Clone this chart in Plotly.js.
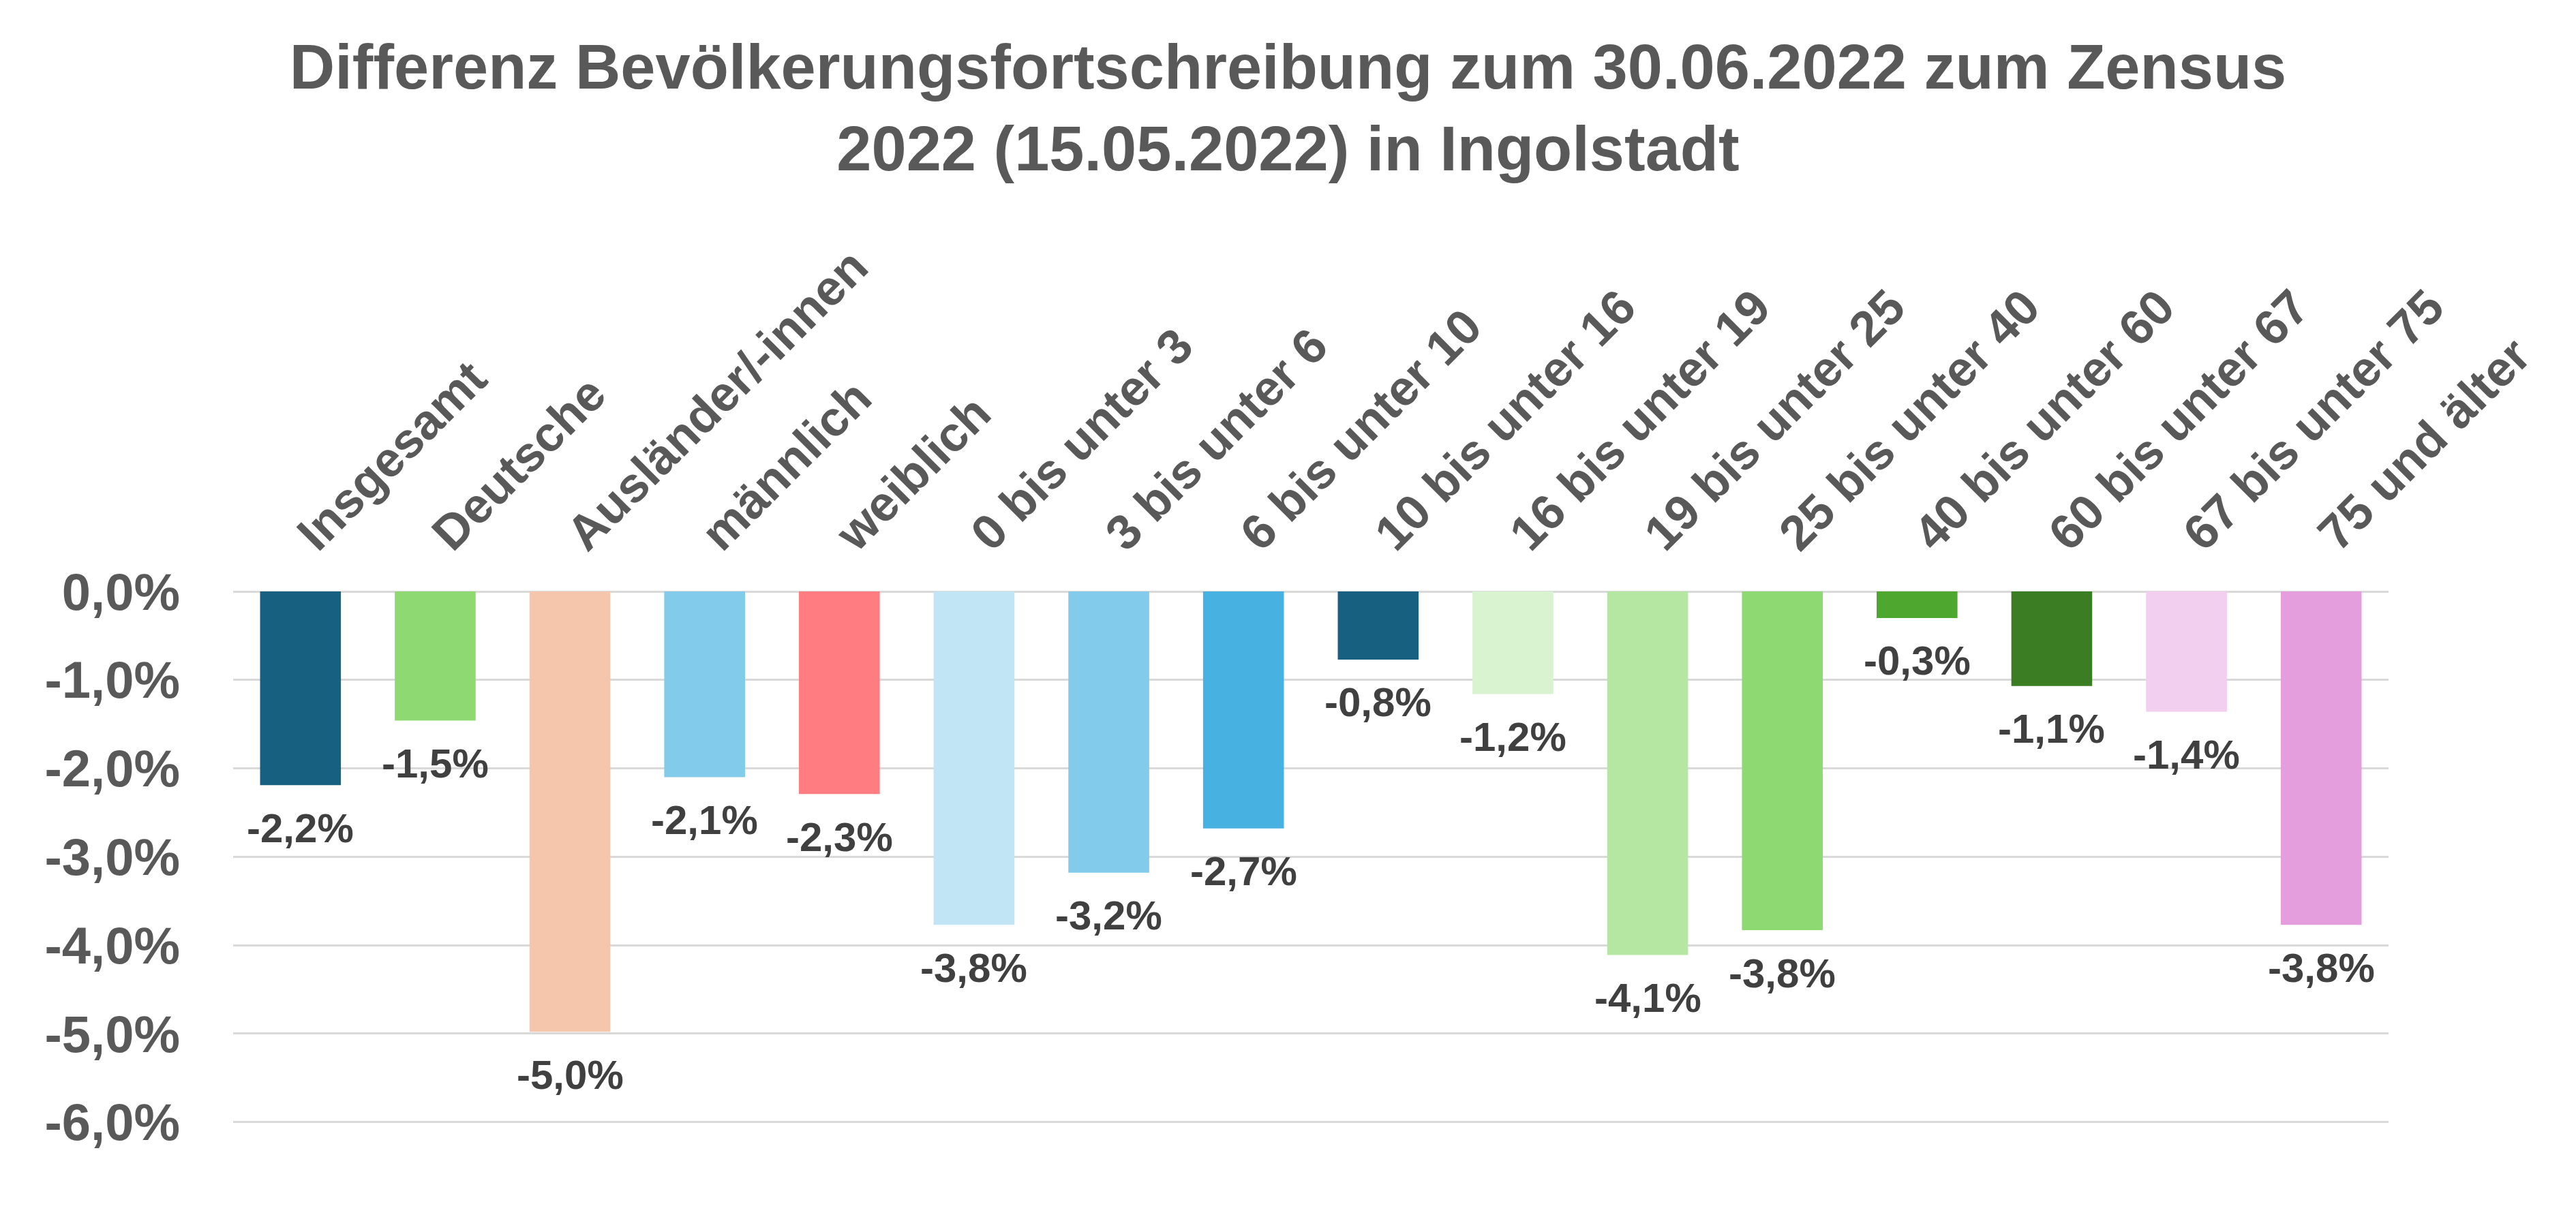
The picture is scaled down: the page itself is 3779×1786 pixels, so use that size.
<!DOCTYPE html>
<html>
<head>
<meta charset="utf-8">
<script src="https://cdn.plot.ly/plotly-3.0.1.min.js"></script>
<style>
  html, body { margin: 0; padding: 0; background: #fff; }
  #chart { width: 3779px; height: 1786px; }
</style>
</head>
<body>
<div id="chart"></div>
<script>
// Differenz Bevoelkerungsfortschreibung vs. Zensus 2022, Ingolstadt

var categories = ['Insgesamt', 'Deutsche', 'Ausländer/-innen', 'männlich', 'weiblich',
  '0 bis unter 3', '3 bis unter 6', '6 bis unter 10', '10 bis unter 16', '16 bis unter 19',
  '19 bis unter 25', '25 bis unter 40', '40 bis unter 60', '60 bis unter 67', '67 bis unter 75',
  '75 und älter'];

var values = [-2.19, -1.46, -4.98, -2.10, -2.29, -3.77, -3.18, -2.68, -0.77, -1.16,
  -4.11, -3.83, -0.30, -1.07, -1.36, -3.77];

var barColors = ['#17607F', '#8FD973', '#F5C6AC', '#83CBEB', '#FF7C80', '#C1E5F5',
  '#83CBEB', '#47B1E1', '#17607F', '#D9F2D0', '#B5E6A2', '#8FD973', '#4EA72E',
  '#3B7D23', '#F2CEEF', '#E49EDD'];

var tickVals = [0, -1, -2, -3, -4, -5, -6];
var tickText = ['0,0%', '-1,0%', '-2,0%', '-3,0%', '-4,0%', '-5,0%', '-6,0%'];

var FONT = 'Liberation Sans, Arial, sans-serif';

function pct(v) {
  return v.toFixed(1).replace('.', ',') + '%';
}

var bars = {
  x: categories,
  y: values,
  type: 'bar',
  marker: {color: barColors},
  hoverinfo: 'none'
};

// value labels under each bar end
var labels = [];
for (var i = 0; i < categories.length; i++) {
  labels.push({
    x: categories[i],
    y: values[i],
    xref: 'x',
    yref: 'y',
    text: pct(values[i]),
    showarrow: false,
    yanchor: 'middle',
    yshift: -63,
    font: {family: FONT, size: 60, color: '#404040', weight: 'bold'}
  });
}

var layout = {
  width: 3779,
  height: 1786,
  margin: {l: 342, r: 275, t: 868, b: 138},
  paper_bgcolor: '#ffffff',
  plot_bgcolor: '#ffffff',
  showlegend: false,
  bargap: 0.4,
  title: {
    text: 'Differenz Bevölkerungsfortschreibung zum 30.06.2022 zum Zensus<br>2022 (15.05.2022) in Ingolstadt',
    x: 0.5,
    xanchor: 'center',
    y: 0.927,
    yanchor: 'top',
    yref: 'container',
    font: {family: FONT, size: 92, color: '#595959', weight: 'bold'}
  },
  xaxis: {
    side: 'top',
    tickangle: -45,
    showgrid: false,
    zeroline: false,
    showline: false,
    ticks: '',
    ticklabelstandoff: 30,
    tickfont: {family: FONT, size: 72, color: '#595959', weight: 'bold'}
  },
  yaxis: {
    range: [-6.01, 0],
    tickvals: tickVals,
    ticktext: tickText,
    showgrid: true,
    gridcolor: '#D9D9D9',
    gridwidth: 3,
    zeroline: true,
    zerolinecolor: '#D9D9D9',
    zerolinewidth: 3,
    showline: false,
    ticks: '',
    ticklabelstandoff: 77,
    tickfont: {family: FONT, size: 76, color: '#595959', weight: 'bold'}
  },
  annotations: labels
};

Plotly.newPlot('chart', [bars], layout, {displayModeBar: false, staticPlot: true});
</script>
</body>
</html>
